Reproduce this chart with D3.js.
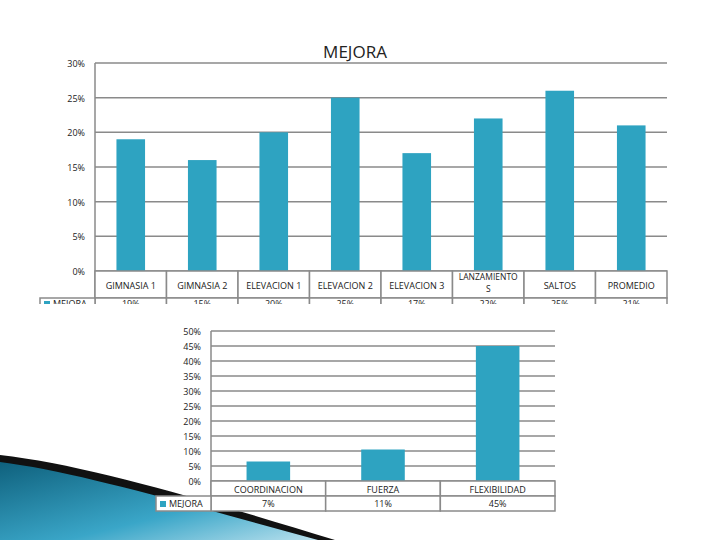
<!DOCTYPE html>
<meta charset="utf-8">
<style>
body { margin: 0; background: #fff; }
text { font-family: "Open Sans", sans-serif; fill: #222; }
.grid line { stroke: #8a8a8a; stroke-width: 1.5px; }
.cell { fill: #fff; stroke: #8a8a8a; stroke-width: 1.5px; }
</style>
<script src="https://d3js.org/d3.v7.min.js"></script>
<body>
<div id="chart"></div>
</body>
<script>
// top chart
var topCats = ["GIMNASIA 1", "GIMNASIA 2", "ELEVACION 1", "ELEVACION 2", "ELEVACION 3", "LANZAMIENTOS", "SALTOS", "PROMEDIO"];
var topVals = [0.19, 0.16, 0.20, 0.25, 0.17, 0.22, 0.26, 0.21];
var topLabels = ["19%", "15%", "20%", "25%", "17%", "22%", "25%", "21%"];
var topTicks = [0, 0.05, 0.10, 0.15, 0.20, 0.25, 0.30];

// bottom chart
var botCats = ["COORDINACION", "FUERZA", "FLEXIBILIDAD"];
var botVals = [0.065, 0.105, 0.45];
var botLabels = ["7%", "11%", "45%"];
var botTicks = [0, 0.05, 0.10, 0.15, 0.20, 0.25, 0.30, 0.35, 0.40, 0.45, 0.50];

var svg = d3.select("#chart").append("svg")
    .attr("width", 720)
    .attr("height", 540);

// decorative swoosh in the corner
var grad = svg.append("defs").append("linearGradient")
    .attr("id", "sw").attr("x1", "0").attr("y1", "0").attr("x2", "1").attr("y2", "1");
grad.append("stop").attr("offset", "0").attr("stop-color", "#0d5e7a");
grad.append("stop").attr("offset", "0.6").attr("stop-color", "#3aa6c8");
grad.append("stop").attr("offset", "1").attr("stop-color", "#bfe3ef");
svg.append("path").attr("d", "M0,455 L330,540 L0,540 Z").attr("fill", "#dbe9ee");
svg.append("path").attr("d", "M0,458 C80,470 200,510 330,540 L0,540 Z").attr("fill", "url(#sw)");
svg.append("path").attr("d", "M0,455 C90,465 220,505 335,540 L318,540 C200,508 80,472 0,462 Z").attr("fill", "#111");

function drawChart(cfg) {
  var x = d3.scaleBand().domain(cfg.cats).range([cfg.left, cfg.right]);
  var y = d3.scaleLinear().domain([0, d3.max(cfg.ticks)]).range([cfg.bottom, cfg.top]);

  svg.append("g").attr("class", "grid")
      .selectAll("line").data(cfg.ticks).enter().append("line")
      .attr("x1", cfg.left).attr("x2", cfg.right)
      .attr("y1", function(d) { return y(d); }).attr("y2", function(d) { return y(d); });
  svg.append("line").attr("x1", cfg.left).attr("x2", cfg.left)
      .attr("y1", cfg.top).attr("y2", cfg.bottom + cfg.rowH * 2)
      .attr("stroke", "#8a8a8a").attr("stroke-width", 1.5);

  svg.append("g").selectAll("text").data(cfg.ticks).enter().append("text")
      .attr("x", cfg.left - 10).attr("y", function(d) { return y(d) + 4; })
      .attr("text-anchor", "end").style("font-size", "9px")
      .text(d3.format(".0%"));

  var bw = x.bandwidth() * cfg.barFrac;
  svg.append("g").selectAll("rect").data(cfg.vals).enter().append("rect")
      .attr("x", function(d, i) { return x(cfg.cats[i]) + (x.bandwidth() - bw) / 2; })
      .attr("y", function(d) { return y(d); })
      .attr("width", bw)
      .attr("height", function(d) { return cfg.bottom - y(d); })
      .attr("fill", "#2ea3c1");

  // data table
  var rows = svg.append("g");
  var valY = cfg.bottom + cfg.rowH + cfg.valDy;
  cfg.cats.forEach(function(c, i) {
    rows.append("rect").attr("class", "cell")
        .attr("x", x(c)).attr("y", cfg.bottom).attr("width", x.bandwidth()).attr("height", cfg.rowH);
    rows.append("rect").attr("class", "cell")
        .attr("x", x(c)).attr("y", cfg.bottom + cfg.rowH).attr("width", x.bandwidth()).attr("height", cfg.rowH);
    var t = rows.append("text").attr("x", x(c) + x.bandwidth() / 2)
        .attr("text-anchor", "middle").style("font-size", "9px");
    if (cfg.wrap && c === "LANZAMIENTOS") {
      t.attr("y", cfg.bottom + 9).style("font-size", "8.5px").text("LANZAMIENTO");
      rows.append("text").attr("x", x(c) + x.bandwidth() / 2).attr("y", cfg.bottom + 21)
          .attr("text-anchor", "middle").style("font-size", "8.5px").text("S");
    } else {
      t.attr("y", cfg.bottom + cfg.rowH / 2 + 4).text(c);
    }
    rows.append("text").attr("x", x(c) + x.bandwidth() / 2)
        .attr("y", valY)
        .attr("text-anchor", "middle").style("font-size", "9px")
        .text(cfg.labels[i]);
  });
  rows.append("rect").attr("class", "cell")
      .attr("x", cfg.left - 55).attr("y", cfg.bottom + cfg.rowH).attr("width", 55).attr("height", cfg.rowH);
  rows.append("rect").attr("x", cfg.left - 51).attr("y", valY - 6)
      .attr("width", 6).attr("height", 6).attr("fill", "#2ea3c1");
  rows.append("text").attr("x", cfg.left - 42).attr("y", valY)
      .style("font-size", "9px").text("MEJORA");
}

drawChart({cats: topCats, vals: topVals, labels: topLabels, ticks: topTicks,
  left: 95, right: 667, top: 63, bottom: 271, rowH: 27, barFrac: 0.4, wrap: true, valDy: 9});

// the top table is clipped in the reference
svg.append("rect").attr("x", 0).attr("y", 304).attr("width", 720).attr("height", 24).attr("fill", "#fff");

drawChart({cats: botCats, vals: botVals, labels: botLabels, ticks: botTicks,
  left: 211, right: 555, top: 331, bottom: 481, rowH: 15, barFrac: 0.38, wrap: false, valDy: 11});

svg.append("text").attr("x", 355).attr("y", 58).attr("text-anchor", "middle")
    .style("font-size", "17px").text("MEJORA");
</script>
